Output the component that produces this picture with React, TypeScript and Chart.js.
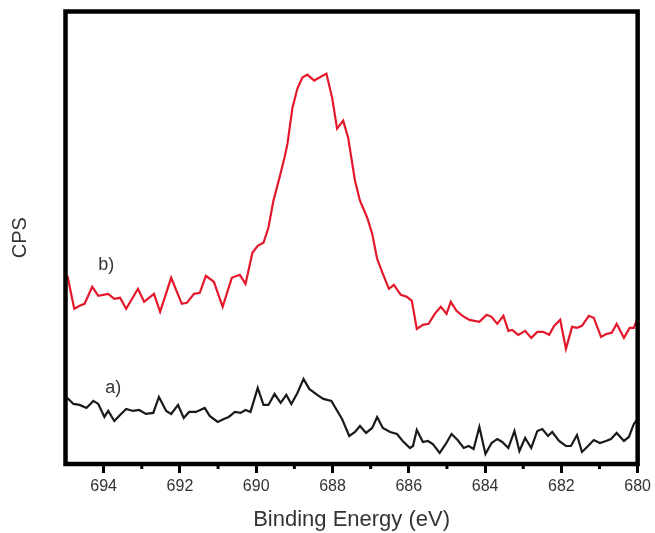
import React, { useEffect, useRef } from "react";
import { Chart, registerables } from "chart.js";

Chart.register(...registerables);

const redEnergy = [694.95,694.77,694.63,694.50,694.30,694.14,693.88,693.72,693.57,693.41,693.10,692.94,692.68,692.52,692.23,691.95,691.82,691.63,691.48,691.32,691.11,690.88,690.64,690.43,690.28,690.10,689.96,689.81,689.68,689.55,689.39,689.26,689.18,689.05,688.92,688.79,688.66,688.48,688.16,688.01,687.88,687.72,687.59,687.41,687.28,687.09,686.96,686.83,686.68,686.52,686.39,686.21,686.05,685.92,685.79,685.63,685.48,685.32,685.16,685.01,684.90,684.75,684.59,684.41,684.15,683.96,683.83,683.68,683.52,683.39,683.29,683.13,682.95,682.79,682.63,682.48,682.32,682.19,682.03,681.88,681.72,681.59,681.46,681.28,681.15,680.96,680.81,680.68,680.55,680.36,680.21,680.10,680.02];
const redCps = [1880,1550,1580,1600,1770,1680,1700,1650,1660,1550,1750,1620,1700,1520,1860,1600,1610,1700,1710,1880,1820,1570,1860,1890,1800,2110,2180,2210,2360,2630,2860,3060,3200,3560,3750,3860,3890,3830,3900,3660,3350,3430,3260,2830,2630,2460,2300,2050,1900,1750,1790,1690,1670,1630,1350,1390,1400,1500,1570,1500,1620,1530,1480,1440,1420,1490,1470,1400,1480,1330,1340,1290,1330,1260,1320,1320,1290,1380,1440,1150,1370,1360,1380,1480,1460,1270,1300,1310,1400,1260,1360,1360,1440];

const blackEnergy = [694.95,694.79,694.63,694.45,694.27,694.14,693.98,693.88,693.72,693.57,693.41,693.23,693.07,692.89,692.70,692.55,692.36,692.23,692.05,691.90,691.76,691.58,691.35,691.22,691.01,690.85,690.72,690.56,690.41,690.28,690.15,689.96,689.81,689.68,689.52,689.36,689.21,689.08,688.92,688.76,688.61,688.40,688.24,688.03,687.75,687.56,687.41,687.28,687.12,686.96,686.83,686.68,686.49,686.31,686.16,685.97,685.89,685.79,685.63,685.50,685.37,685.19,685.03,684.88,684.72,684.56,684.43,684.30,684.15,683.99,683.83,683.68,683.55,683.39,683.23,683.10,682.95,682.79,682.63,682.50,682.35,682.24,682.06,681.88,681.75,681.59,681.46,681.30,681.15,680.99,680.83,680.70,680.55,680.36,680.23,680.10,680.02];
const blackCps = [660,600,590,560,630,600,470,530,430,490,550,530,540,500,510,670,530,500,590,460,520,520,560,480,420,450,470,520,510,540,520,760,590,590,700,610,690,600,710,850,750,690,650,630,450,280,320,380,310,360,470,360,320,300,230,160,180,340,220,230,200,110,200,300,240,160,180,150,370,100,210,250,220,160,330,130,260,160,330,350,280,320,230,180,180,290,120,180,240,210,230,250,310,230,270,400,440];

const majorTicks = [694, 692, 690, 688, 686, 684, 682, 680];
const minorTicks = [695, 693, 691, 689, 687, 685, 683, 681];

const curveLabels = ["b)", "a)"];
const labelEnergy = [693.93, 693.75];
const labelCps = [1990, 760];

const xTitle = "Binding Energy (eV)";
const yTitle = "CPS";

const FONT = "'Liberation Sans', Arial, Helvetica, sans-serif";

const framePlugin = {
  id: "frame",
  afterDraw(chart: any) {
    const { ctx, chartArea, scales } = chart;
    const { left, right, top, bottom } = chartArea;
    ctx.save();
    // minor ticks
    ctx.strokeStyle = "#000";
    ctx.lineWidth = 3;
    minorTicks.forEach((v) => {
      const x = scales.x.getPixelForValue(v);
      if (x > left + 3 && x < right - 3) {
        ctx.beginPath();
        ctx.moveTo(x, bottom);
        ctx.lineTo(x, bottom + 5);
        ctx.stroke();
      }
    });
    // frame
    ctx.lineWidth = 4.5;
    ctx.strokeStyle = "#000";
    ctx.strokeRect(left, top, right - left, bottom - top);
    // curve labels
    ctx.fillStyle = "#333";
    ctx.font = `18px ${FONT}`;
    ctx.textAlign = "center";
    ctx.textBaseline = "middle";
    curveLabels.forEach((t, i) => {
      ctx.fillText(t, scales.x.getPixelForValue(labelEnergy[i]), scales.y.getPixelForValue(labelCps[i]));
    });
    ctx.restore();
  },
};

export default function App() {
  const ref = useRef<HTMLCanvasElement>(null);
  useEffect(() => {
    document.body.style.margin = "0";
    const chart = new Chart(ref.current!, {
      type: "line",
      data: {
        datasets: [
          {
            label: "b",
            data: redEnergy.map((x, i) => ({ x, y: redCps[i] })),
            borderColor: "#e3192b",
            borderWidth: 2.2,
            pointRadius: 0,
            tension: 0,
            fill: false,
          },
          {
            label: "a",
            data: blackEnergy.map((x, i) => ({ x, y: blackCps[i] })),
            borderColor: "#1a1a1a",
            borderWidth: 2.2,
            pointRadius: 0,
            tension: 0,
            fill: false,
          },
        ],
      },
      options: {
        animation: false,
        responsive: false,
        layout: { padding: { top: 11.5, right: 15.5, left: 0, bottom: 0 } },
        plugins: { legend: { display: false }, tooltip: { enabled: false } },
        scales: {
          x: {
            type: "linear",
            min: 680,
            max: 695,
            reverse: true,
            afterBuildTicks: (scale: any) => {
              scale.ticks = majorTicks.map((v) => ({ value: v }));
            },
            afterFit: (scale: any) => {
              scale.height = 69;
            },
            border: { display: false },
            grid: {
              display: true,
              drawOnChartArea: false,
              drawTicks: true,
              tickLength: 9,
              tickWidth: 3,
              tickColor: "#000",
              color: "#000",
            },
            ticks: {
              color: "#333",
              font: { family: FONT, size: 16 },
              padding: 4,
              maxRotation: 0,
              autoSkip: false,
            },
            title: {
              display: true,
              text: xTitle,
              color: "#333",
              font: { family: FONT, size: 22 },
              padding: { top: 10, bottom: 0 },
            },
          },
          y: {
            type: "linear",
            min: 0,
            max: 4520,
            afterFit: (scale: any) => {
              scale.width = 65.5;
            },
            border: { display: false },
            grid: { display: false },
            ticks: { display: false },
            title: {
              display: true,
              text: yTitle,
              color: "#333",
              font: { family: FONT, size: 20 },
              padding: { top: 8, bottom: 0 },
            },
          },
        },
      },
      plugins: [framePlugin],
    });
    return () => chart.destroy();
  }, []);
  return <canvas ref={ref} width={655} height={533} />;
}
